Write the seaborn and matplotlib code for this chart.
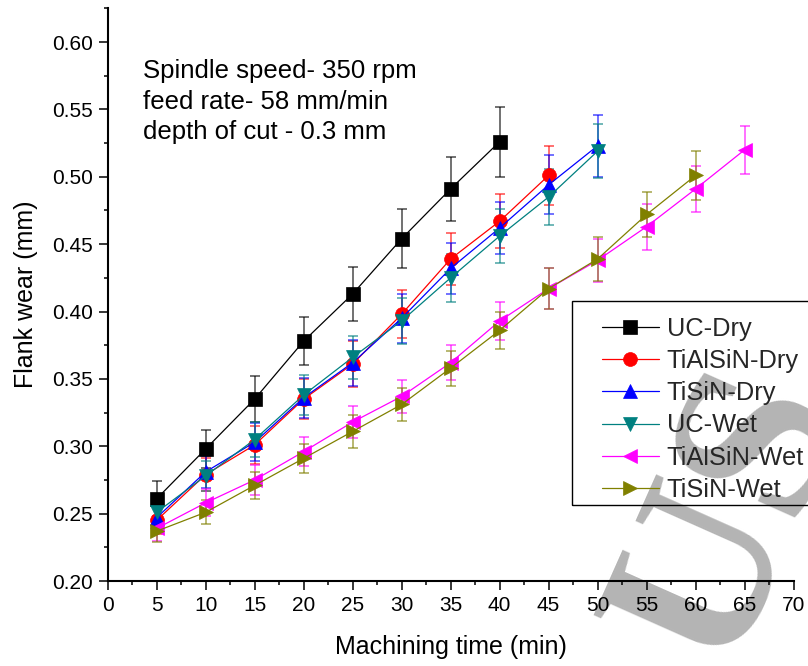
import matplotlib
matplotlib.use("Agg")
import matplotlib.pyplot as plt
import seaborn as sns
import numpy as np
import pandas as pd
from matplotlib.ticker import MultipleLocator
from matplotlib.patches import Rectangle

# ---------------- data ----------------
series_names = ["UC-Dry", "TiAlSiN-Dry", "TiSiN-Dry", "UC-Wet", "TiAlSiN-Wet", "TiSiN-Wet"]

x_uc_dry = [5, 10, 15, 20, 25, 30, 35, 40]
y_uc_dry = [0.261, 0.298, 0.335, 0.378, 0.413, 0.454, 0.491, 0.526]
e_uc_dry = [0.013, 0.014, 0.017, 0.018, 0.020, 0.022, 0.024, 0.026]

x_tialsin_dry = [5, 10, 15, 20, 25, 30, 35, 40, 45]
y_tialsin_dry = [0.245, 0.279, 0.301, 0.335, 0.361, 0.398, 0.439, 0.467, 0.501]
e_tialsin_dry = [0.010, 0.012, 0.014, 0.015, 0.017, 0.018, 0.019, 0.020, 0.022]

x_tisin_dry = [5, 10, 15, 20, 25, 30, 35, 40, 45, 50]
y_tisin_dry = [0.247, 0.281, 0.303, 0.336, 0.362, 0.395, 0.432, 0.462, 0.494, 0.523]
e_tisin_dry = [0.010, 0.012, 0.014, 0.015, 0.017, 0.018, 0.019, 0.019, 0.022, 0.023]

x_uc_wet = [5, 10, 15, 20, 25, 30, 35, 40, 45, 50]
y_uc_wet = [0.251, 0.278, 0.305, 0.338, 0.366, 0.393, 0.425, 0.456, 0.485, 0.519]
e_uc_wet = [0.010, 0.011, 0.013, 0.015, 0.016, 0.017, 0.018, 0.020, 0.021, 0.020]

x_tialsin_wet = [5, 10, 15, 20, 25, 30, 35, 40, 45, 50, 55, 60, 65]
y_tialsin_wet = [0.239, 0.258, 0.275, 0.296, 0.318, 0.337, 0.362, 0.393, 0.417, 0.438, 0.463, 0.491, 0.520]
e_tialsin_wet = [0.009, 0.010, 0.011, 0.011, 0.012, 0.012, 0.013, 0.014, 0.015, 0.016, 0.017, 0.017, 0.018]

x_tisin_wet = [5, 10, 15, 20, 25, 30, 35, 40, 45, 50, 55, 60]
y_tisin_wet = [0.237, 0.251, 0.271, 0.291, 0.311, 0.331, 0.358, 0.386, 0.417, 0.439, 0.472, 0.501]
e_tisin_wet = [0.008, 0.009, 0.010, 0.011, 0.012, 0.012, 0.013, 0.014, 0.015, 0.016, 0.017, 0.018]

x_ticks = [0, 5, 10, 15, 20, 25, 30, 35, 40, 45, 50, 55, 60, 65, 70]
y_ticks = [0.20, 0.25, 0.30, 0.35, 0.40, 0.45, 0.50, 0.55, 0.60]

annotation = "Spindle speed- 350 rpm\nfeed rate- 58 mm/min\ndepth of cut - 0.3 mm"

# ---------------- style ----------------
sns.set_theme(style="ticks")
plt.rcParams["font.family"] = ["Liberation Sans", "DejaVu Sans"]

colors = ["#000000", "#ff0000", "#0000ff", "#008080", "#ff00ff", "#808000"]
markers = ["s", "o", "^", "v", "<", ">"]
msizes = [9.5, 10, 10.5, 10.5, 10.5, 10.5]

xs = [x_uc_dry, x_tialsin_dry, x_tisin_dry, x_uc_wet, x_tialsin_wet, x_tisin_wet]
ys = [y_uc_dry, y_tialsin_dry, y_tisin_dry, y_uc_wet, y_tialsin_wet, y_tisin_wet]
es = [e_uc_dry, e_tialsin_dry, e_tisin_dry, e_uc_wet, e_tialsin_wet, e_tisin_wet]

W, H = 808, 666
fig = plt.figure(figsize=(W / 100, H / 100), dpi=100)
fig.patch.set_facecolor("white")
ax = fig.add_axes([0.1332, 0.1276, 0.9822 - 0.1332, 0.9875 - 0.1276])
ax.patch.set_alpha(0)

# watermark (behind axes)
fig.text(735 / W, 1 - 520 / H, "US", fontsize=165, color="#b4b4b4", rotation=66,
         ha="center", va="center", family="Liberation Serif", fontweight="bold",
         zorder=-5)

for name, x, y, e, c, m, ms in zip(series_names, xs, ys, es, colors, markers, msizes):
    df = pd.DataFrame({"time": x, "wear": y})
    ax.errorbar(x, y, yerr=e, fmt="none", ecolor=c, alpha=0.65, elinewidth=1.2,
                capsize=3.6, capthick=1.2, zorder=2)
    sns.lineplot(data=df, x="time", y="wear", ax=ax, color=c, marker=m,
                 markersize=ms, markeredgecolor=c, markeredgewidth=0.5,
                 linewidth=0.9, label=name, zorder=3)

ax.set_xlim(0, 70)
ax.set_ylim(0.2, 0.625)
ax.set_xticks(x_ticks)
ax.set_xticklabels([str(t) for t in x_ticks])
ax.set_yticks(y_ticks)
ax.set_yticklabels([f"{t:.2f}" for t in y_ticks])
ax.xaxis.set_minor_locator(MultipleLocator(2.5))
ax.yaxis.set_minor_locator(MultipleLocator(0.025))

ax.tick_params(axis="both", which="major", direction="out", length=6.5, width=1.1,
               labelsize=15, pad=4, color="black", labelcolor="black")
ax.tick_params(axis="both", which="minor", direction="out", length=3, width=1.1,
               color="black")
sns.despine(ax=ax)
for s in ["left", "bottom"]:
    ax.spines[s].set_linewidth(1.5)
    ax.spines[s].set_color("black")

ax.set_xlabel("Machining time (min)", fontsize=18, labelpad=15, color="black")
ax.set_ylabel("Flank wear (mm)", fontsize=18, labelpad=10, color="black")

ax.text(3.6, 0.5557, annotation, fontsize=18.5, va="center", ha="left",
        linespacing=1.35, color="black")

# legend frame drawn explicitly (extends past the right edge like the reference)
frame = Rectangle((571.7 / W, 1 - 505 / H), (830 - 571.7) / W, (505 - 300.7) / H,
                  transform=fig.transFigure, facecolor="none", edgecolor="black",
                  linewidth=1.0, zorder=4, clip_on=False)
fig.patches.append(frame)

leg = ax.legend(loc="upper left", bbox_to_anchor=(601.7 / W, 1 - 317 / H),
                bbox_transform=fig.transFigure, fontsize=18.3, frameon=False,
                borderpad=0, labelspacing=0.32, handlelength=2.26,
                handletextpad=0.3, borderaxespad=0)

fig.savefig("out.png", dpi=100)
